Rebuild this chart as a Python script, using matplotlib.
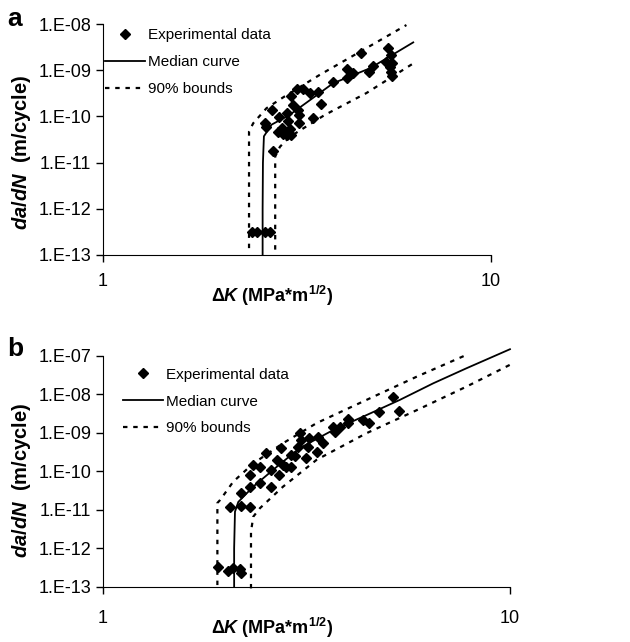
import numpy as np
import matplotlib
matplotlib.use("Agg")
import matplotlib.pyplot as plt

plt.rcParams["font.family"] = ["Liberation Sans", "DejaVu Sans"]
plt.rcParams["mathtext.fontset"] = "custom"
plt.rcParams["mathtext.rm"] = "Liberation Sans:bold"
plt.rcParams["mathtext.it"] = "Liberation Sans:bold:italic"
plt.rcParams["mathtext.bf"] = "Liberation Sans:bold"

# ---- panel a ----
a_exp_dk = [5.42, 4.62, 5.53, 5.38, 5.55, 5.49, 5.52, 5.55, 4.97, 4.86, 4.27, 4.42,
            4.27, 3.92, 3.42, 3.59, 3.16, 3.27, 3.06, 3.64, 3.09, 3.19, 2.72, 2.85,
            2.99, 3.20, 3.47, 3.00, 3.20, 2.61, 2.64, 2.89, 3.03, 2.83, 2.92, 2.99,
            3.06, 2.75, 2.42, 2.50, 2.61, 2.70]
a_exp_rate = [2.98e-9, 2.4e-9, 2.14e-9, 1.53e-9, 1.41e-9, 1.2e-9, 9.3e-10, 7.5e-10,
              1.26e-9, 9.3e-10, 1.05e-9, 8.6e-10, 6.7e-10, 5.5e-10, 3.2e-10, 3.3e-10,
              3.9e-10, 3.9e-10, 2.8e-10, 1.86e-10, 1.77e-10, 1.38e-10, 1.38e-10,
              9.6e-11, 1.17e-10, 1.08e-10, 9.1e-11, 8.1e-11, 7.1e-11, 7.1e-11, 5.8e-11,
              5.6e-11, 5.3e-11, 4.6e-11, 4.1e-11, 4.0e-11, 4.0e-11, 1.74e-11,
              3.1e-13, 3.1e-13, 3.1e-13, 3.1e-13]

a_med_dk = [2.58, 2.58, 2.585, 2.60, 2.72, 3.03, 3.50, 3.92, 4.88, 6.31]
a_med_rate = [1e-13, 1e-12, 1e-11, 3.7e-11, 6.6e-11, 1.08e-10, 2.6e-10, 5.2e-10,
              1.1e-9, 4.0e-9]
a_up_dk = [2.38, 2.38, 2.44, 2.64, 2.94, 3.62, 4.69, 6.06]
a_up_rate = [1.4e-13, 4.7e-11, 7.1e-11, 1.5e-10, 2.7e-10, 7.9e-10, 2.75e-9, 9.5e-9]
a_lo_dk = [2.78, 2.78, 2.86, 3.03, 3.73, 4.78, 6.31]
a_lo_rate = [1.3e-13, 1.35e-11, 2.2e-11, 3.6e-11, 1.07e-10, 3.2e-10, 1.4e-9]

# ---- panel b ----
b_exp_dk = [1.92, 2.03, 2.09, 2.17, 2.18, 2.05, 2.18, 2.30, 2.18, 2.30, 2.30, 2.34,
            2.43, 2.43, 2.52, 2.58, 2.59, 2.67, 2.71, 2.73, 2.77, 2.82, 2.89, 2.90,
            2.96, 3.02, 3.04, 3.07, 3.16, 3.19, 3.21, 3.35, 3.38, 3.47, 3.68, 3.71,
            3.82, 3.99, 3.99, 4.36, 4.50, 4.76, 5.17, 5.34]
b_exp_rate = [3.2e-13, 2.6e-13, 3.0e-13, 2.8e-13, 2.3e-13, 1.15e-11, 1.26e-11,
              1.15e-11, 2.7e-11, 3.8e-11, 8.0e-11, 1.46e-10, 1.32e-10, 4.9e-11,
              2.95e-10, 4.0e-11, 1.08e-10, 1.97e-10, 8.0e-11, 4.0e-10, 1.46e-10,
              1.32e-10, 1.32e-10, 2.66e-10, 2.5e-10, 4.4e-10, 9.8e-10, 6.5e-10,
              2.2e-10, 4.4e-10, 7.2e-10, 3.1e-10, 7.9e-10, 5.6e-10, 1.45e-9, 1.07e-9,
              1.45e-9, 2.24e-9, 1.78e-9, 2.16e-9, 1.78e-9, 3.4e-9, 8.4e-9, 3.8e-9]

b_med_dk = [2.10, 2.10, 2.11, 2.15, 2.34, 2.67, 3.04, 3.68, 4.44, 5.36, 6.48, 7.82, 10.0]
b_med_rate = [1e-13, 1e-12, 8.9e-12, 1.6e-11, 4.0e-11, 1.3e-10, 4.0e-10, 1.19e-9,
              2.9e-9, 7.2e-9, 1.95e-8, 4.8e-8, 1.5e-7]
b_up_dk = [1.91, 1.91, 1.94, 2.09, 2.34, 2.77, 3.35, 4.44, 5.90, 7.82]
b_up_rate = [1.1e-13, 1.5e-11, 1.8e-11, 5.4e-11, 1.6e-10, 5.4e-10, 1.8e-9, 7.2e-9,
             2.9e-8, 1.07e-7]
b_lo_dk = [2.31, 2.31, 2.34, 2.43, 2.77, 3.35, 4.44, 5.90, 7.82, 10.0]
b_lo_rate = [9e-14, 2.7e-12, 6.6e-12, 1.1e-11, 4.0e-11, 2.0e-10, 9.8e-10, 3.9e-9,
             1.6e-8, 5.9e-8]

a_yticks = [1e-13, 1e-12, 1e-11, 1e-10, 1e-9, 1e-8]
a_ylabels = ["1.E-13", "1.E-12", "1.E-11", "1.E-10", "1.E-09", "1.E-08"]
b_yticks = [1e-13, 1e-12, 1e-11, 1e-10, 1e-9, 1e-8, 1e-7]
b_ylabels = ["1.E-13", "1.E-12", "1.E-11", "1.E-10", "1.E-09", "1.E-08", "1.E-07"]

fig = plt.figure(figsize=(6.3, 6.42), dpi=100)
ax_a = fig.add_axes([0.1635, 0.603, 0.6155, 0.3596])
ax_b = fig.add_axes([0.1635, 0.0862, 0.646, 0.3593])


def draw_panel(ax, exp_dk, exp_rate, med_dk, med_rate, up_dk, up_rate, lo_dk, lo_rate,
               yticks, ylabels, leg_anchor, xpad, xlab_pos, ylab_pos):
    ax.plot(exp_dk, exp_rate, "D", color="black", ms=5, label="Experimental data",
            clip_on=False)
    ax.plot(med_dk, med_rate, "-", color="black", lw=1.3, label="Median curve",
            clip_on=False)
    ax.plot(up_dk, up_rate, color="black", lw=1.6, ls=(0, (2, 2.6)),
            label="90% bounds", clip_on=False)
    ax.plot(lo_dk, lo_rate, color="black", lw=1.6, ls=(0, (2, 2.6)), clip_on=False)

    ax.set_xscale("log")
    ax.set_yscale("log")
    ax.set_xlim(1, 10)
    ax.set_ylim(yticks[0], yticks[-1])
    ax.set_xticks([1, 10])
    ax.set_xticklabels(["1", "10"])
    ax.xaxis.set_minor_locator(matplotlib.ticker.NullLocator())
    ax.set_yticks(yticks)
    ax.set_yticklabels(ylabels)
    ax.yaxis.set_minor_locator(matplotlib.ticker.NullLocator())
    ax.tick_params(labelsize=13, length=5, width=1, direction="out")
    ax.tick_params(axis="x", pad=xpad)
    ax.spines["top"].set_visible(False)
    ax.spines["right"].set_visible(False)

    ax.set_xlabel(r"$\mathit{ΔK}$ (MPa*m$^{1/2}$)", fontsize=13, fontweight="bold")
    ax.set_ylabel(r"$\mathit{da/dN}$  (m/cycle)", fontsize=14.5, fontweight="bold")
    ax.xaxis.set_label_coords(*xlab_pos)
    ax.yaxis.set_label_coords(*ylab_pos)

    ax.legend(loc="upper left", bbox_to_anchor=leg_anchor, frameon=False,
              fontsize=11, handlelength=2.6, handletextpad=0.2, labelspacing=0.85,
              numpoints=1, borderpad=0, borderaxespad=0)


draw_panel(ax_a, a_exp_dk, a_exp_rate, a_med_dk, a_med_rate, a_up_dk, a_up_rate,
           a_lo_dk, a_lo_rate, a_yticks, a_ylabels, (0.005, 0.982), 8,
           (0.435, -0.125), (-0.18, 0.444))
draw_panel(ax_b, b_exp_dk, b_exp_rate, b_med_dk, b_med_rate, b_up_dk, b_up_rate,
           b_lo_dk, b_lo_rate, b_yticks, b_ylabels, (0.05, 0.95), 12,
           (0.415, -0.125), (-0.172, 0.459))

fig.text(0.012, 0.9595, "a", fontsize=19, fontweight="bold", va="baseline")
fig.text(0.012, 0.4455, "b", fontsize=19, fontweight="bold", va="baseline")

fig.savefig("out.png", dpi=100)
